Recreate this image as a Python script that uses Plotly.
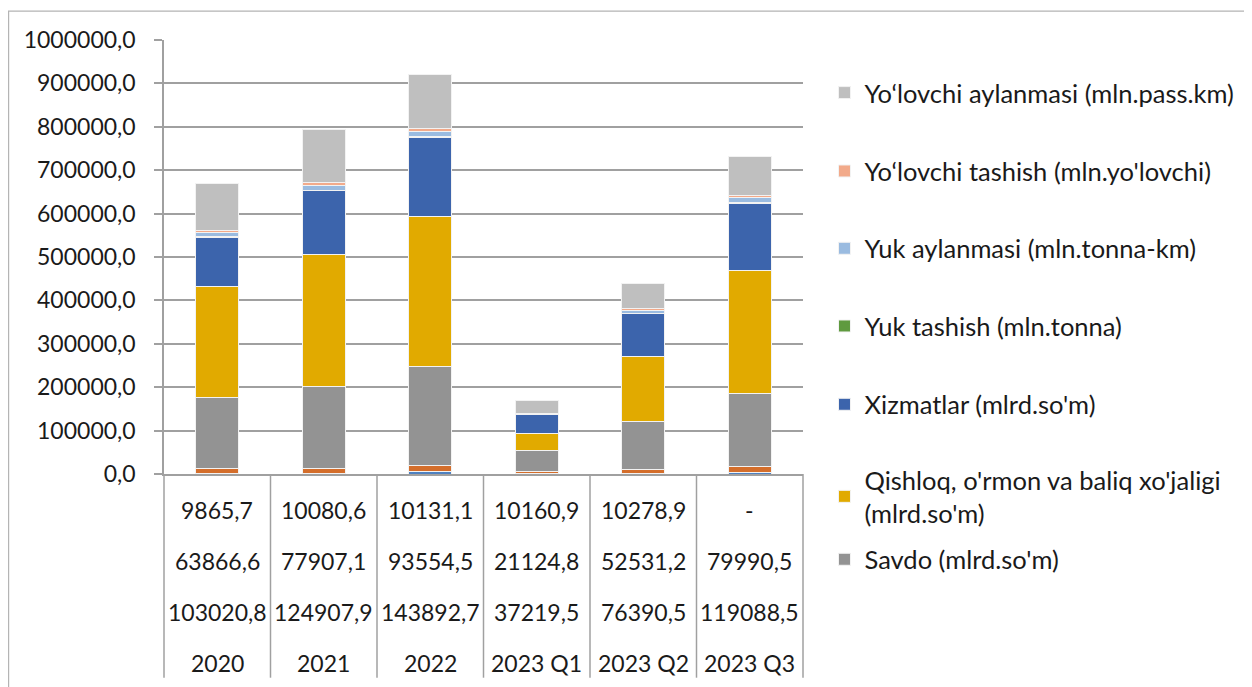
import plotly.graph_objects as go

# ---- data ----
categories = ["2020", "2021", "2022", "2023 Q1", "2023 Q2", "2023 Q3"]
row1_labels = ["9865,7", "10080,6", "10131,1", "10160,9", "10278,9", "-"]
row2_labels = ["63866,6", "77907,1", "93554,5", "21124,8", "52531,2", "79990,5"]
row3_labels = ["103020,8", "124907,9", "143892,7", "37219,5", "76390,5", "119088,5"]

hidden_blue = [800, 900, 5000, 300, 600, 3000]
hidden_orange = [12100, 12900, 15700, 5000, 10900, 15400]
savdo = [164500, 186700, 228100, 48400, 109000, 168200]
qishloq = [253500, 304800, 344700, 39200, 150500, 282500]
xizmatlar = [114300, 146800, 182100, 44400, 99000, 155300]
yuk_tashish = [1400, 1500, 1600, 300, 800, 1200]
yuk_aylanmasi = [10100, 11400, 12200, 900, 6200, 11000]
yolovchi_tashish = [5500, 6900, 6200, 400, 3900, 4600]
yolovchi_aylanmasi = [108300, 121400, 123800, 31600, 59200, 90600]

y_ticks = [0, 100000, 200000, 300000, 400000, 500000, 600000, 700000, 800000, 900000, 1000000]

FONT = "Lato"
TXT = "#1a1a1a"
OFF = 8  # page body margin offset
W, H = 1252 - OFF, 687 - OFF

# plot-area geometry in page pixels (for converting layout positions)
PX_L, PX_R, PX_T, PX_B = 164.3, 803.5, 40.3, 474.3
def py(p):
    return (PX_B - p) / (PX_B - PX_T)
def px(p):
    return (p - PX_L) / (PX_R - PX_L)

series = [
    (None, hidden_blue, "#4f81c0", None),
    (None, hidden_orange, "#d46e2b", None),
    ("Savdo (mlrd.so'm)", savdo, "#939393", 560),
    ("Qishloq, o'rmon va baliq xo'jaligi<br>(mlrd.so'm)", qishloq, "#e1aa00", 497),
    ("Xizmatlar (mlrd.so'm)", xizmatlar, "#3c64ac", 405),
    ("Yuk tashish (mln.tonna)", yuk_tashish, "#5f9a3f", 326.7),
    ("Yuk aylanmasi (mln.tonna-km)", yuk_aylanmasi, "#9abbe0", 249),
    ("Yo\u2018lovchi tashish (mln.yo'lovchi)", yolovchi_tashish, "#f2aa8a", 171.7),
    ("Yo\u2018lovchi aylanmasi (mln.pass.km)", yolovchi_aylanmasi, "#bfbfbf", 93.3),
]

fig = go.Figure()
layout_legends = {}
k = 0
for name, vals, color, ly in series:
    tr = dict(x=categories, y=vals, marker=dict(color=color, line=dict(color="#f2f2f2", width=1)),
              hoverinfo="x+y")
    if name is None:
        fig.add_trace(go.Bar(showlegend=False, **tr))
    else:
        k += 1
        lname = "legend" if k == 1 else f"legend{k}"
        fig.add_trace(go.Bar(name=name, showlegend=True, legend=lname, **tr))
        layout_legends[lname] = dict(
            x=px(825), y=py(ly), xanchor="left", yanchor="middle",
            bgcolor="rgba(0,0,0,0)", borderwidth=0,
            font=dict(family=FONT, size=25.5, color=TXT),
        )

annotations = []
row_y = [510, 561.7, 612, 663]
rows = [row1_labels, row2_labels, row3_labels, categories]
for r, labels in zip(row_y, rows):
    for i, lab in enumerate(labels):
        annotations.append(dict(x=i, y=py(r), xref="x", yref="paper", text=lab,
                                showarrow=False, xanchor="center", yanchor="middle",
                                font=dict(family=FONT, size=23, color=TXT)))

shapes = []
n = len(categories)
for i in range(n + 1):
    shapes.append(dict(type="line", xref="paper", yref="paper", x0=i / n, x1=i / n,
                       y0=0, y1=py(678), line=dict(color="#a0a0a0", width=1.5)))
# outer chart border
shapes.append(dict(type="rect", xref="paper", yref="paper", x0=px(OFF + 0.8), x1=px(1300),
                   y0=py(750), y1=py(11.5), line=dict(color="#b4b4b4", width=1.3),
                   fillcolor="rgba(0,0,0,0)", layer="below"))

fig.update_layout(
    barmode="stack",
    bargap=0.6,
    width=W, height=H,
    margin=dict(l=PX_L - OFF, r=1252 - PX_R, t=PX_T - OFF, b=687 - PX_B, pad=0),
    paper_bgcolor="white", plot_bgcolor="white",
    separators=", ",
    font=dict(family=FONT, color=TXT),
    annotations=annotations,
    shapes=shapes,
    **layout_legends,
)
fig.update_xaxes(type="category", showticklabels=False, showgrid=False, zeroline=False,
                 showline=True, linecolor="#a0a0a0", linewidth=1.5, ticks="", range=[-0.5, n - 0.5])
fig.update_yaxes(range=[0, 1000000], tickvals=y_ticks, tickformat=".1f",
                 showgrid=True, gridcolor="#a0a0a0", gridwidth=1.5,
                 showline=True, linecolor="#a0a0a0", linewidth=1.5,
                 ticks="outside", ticklen=8, tickcolor="#a0a0a0", tickwidth=1.5,
                 ticklabelstandoff=14,
                 tickfont=dict(family=FONT, size=23, color=TXT), zeroline=False)

fig.write_html("out.html")
